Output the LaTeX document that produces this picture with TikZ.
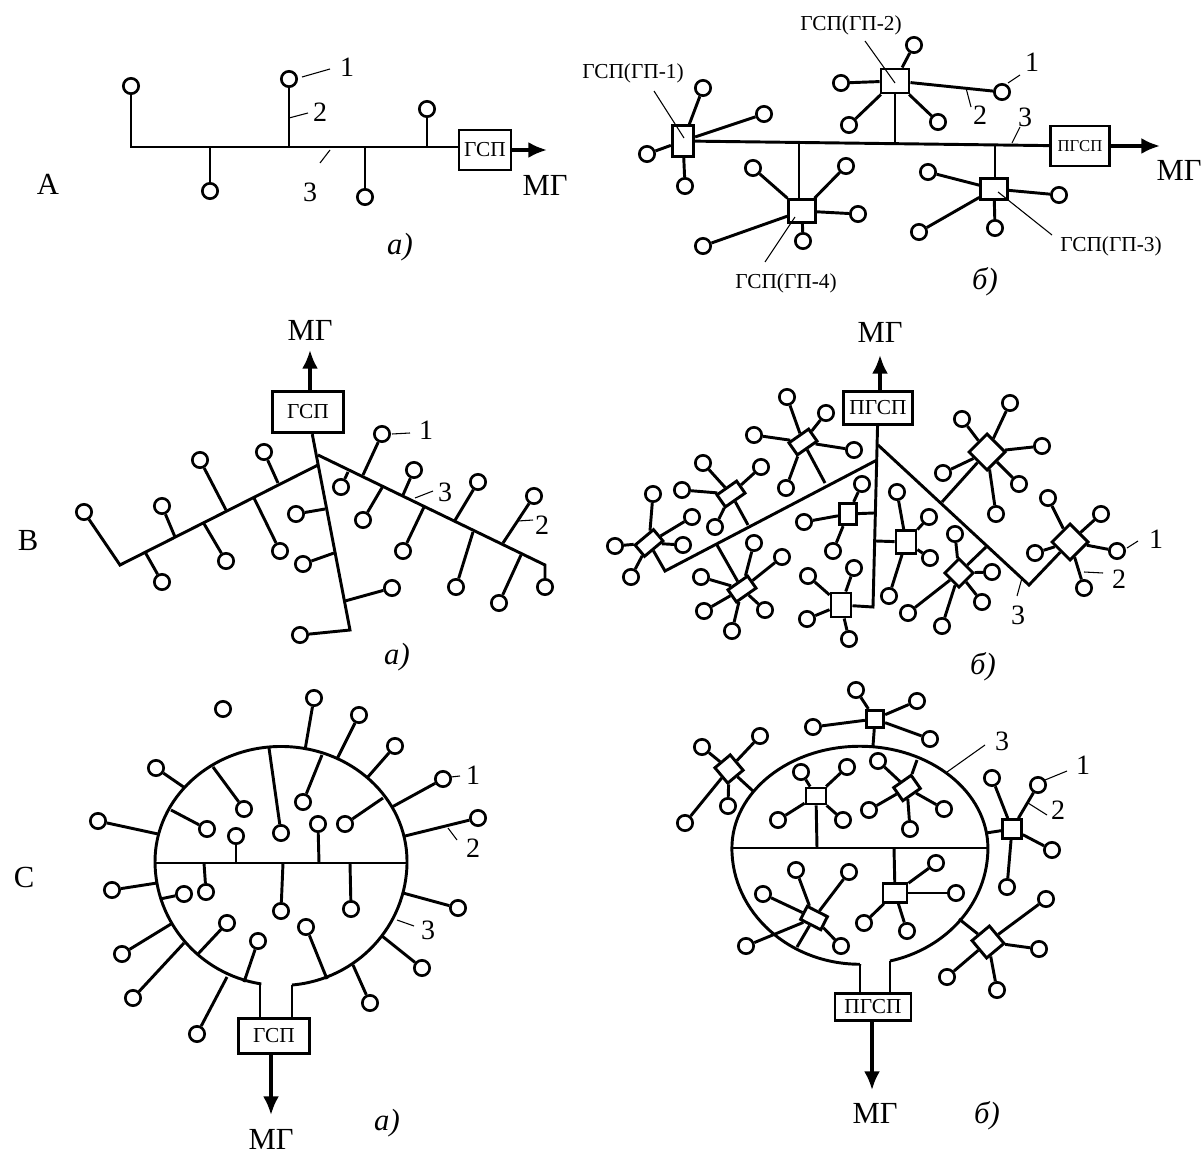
\documentclass[tikz,border=0pt]{standalone}
\usepackage{fontspec}
\setmainfont{Liberation Serif}
\usetikzlibrary{arrows.meta}
\tikzset{
  pipe/.style={line width=2.2pt,line join=miter},
  flow/.style={line width=2.4pt,-{Latex[length=14pt,width=12pt]}},
  leader/.style={line width=.8pt},
  well/.style={circle,draw,line width=2pt,fill=white,minimum size=11.5pt,inner sep=0pt},
  hub/.style={rectangle,draw,line width=2.2pt,fill=white,inner sep=0pt},
  plant/.style={rectangle,draw,line width=2.2pt,fill=white,inner sep=0pt,font=\fontsize{16}{18}\selectfont},
  num/.style={font=\fontsize{21}{23}\selectfont,inner sep=1pt},
  tag/.style={font=\fontsize{16}{18}\selectfont,inner sep=1pt},
  big/.style={font=\fontsize{23}{25}\selectfont,inner sep=0pt},
  part/.style={font=\itshape\fontsize{23}{25}\selectfont,inner sep=0pt}
}
\newcommand{\wellon}[3]{\coordinate (#1j) at (#3); \node[well] (#1) at (#2) {}; \draw[pipe] (#1j) -- (#1);}
\newcommand{\wellof}[3]{\node[well] (#1) at (#2) {}; \draw[pipe] (#3) -- (#1);}
\newcommand{\callout}[6]{\node[#1] (#2) at (#3) {#4}; \coordinate (#2a) at (#5); \coordinate (#2e) at (#6); \draw[leader] (#2a) -- (#2e);}
\begin{document}
\begin{tikzpicture}[x=.75pt,y=-.75pt]
\useasboundingbox (0,0) rectangle (1202,1155);
\node[big] (rowA) at (48,184) {A};
\node[big] (rowB) at (28,541) {B};
\node[big] (rowC) at (24,877) {C};

\node[plant,minimum width=39pt,minimum height=30pt] (AaBox) at (485,150) {ГСП};
\node[big] (AaMG) at (545,185) {МГ};
\coordinate (AaTip) at (547,150);
\draw[flow] (AaBox) -- (AaTip);
\node[well] (Aa1) at (131,86) {};
\coordinate (AaC) at (131,147);
\draw[pipe] (Aa1) -- (AaC) -- (AaBox.west |- AaC);
\wellon{Aa2}{289,79}{289,147}
\wellon{Aa3}{427,109}{427,147}
\wellon{Aa4}{210,191}{210,147}
\wellon{Aa5}{365,197}{365,147}
\callout{num}{Aan1}{347,67}{1}{302,77}{330,69}
\callout{num}{Aan2}{320,112}{2}{289,118}{308,113}
\callout{num}{Aan3}{310,192}{3}{320,163}{330,150}
\node[part] (Aap) at (400,247) {а)};

\node[hub,minimum width=16pt,minimum height=23pt] (Ab1) at (683,141) {};
\node[hub,minimum width=21pt,minimum height=18pt] (Ab2) at (895,81) {};
\node[hub,minimum width=20pt,minimum height=16pt] (Ab3) at (994,189) {};
\node[hub,minimum width=20pt,minimum height=17pt] (Ab4) at (802,211) {};
\node[plant,minimum width=44pt,minimum height=30pt,font=\fontsize{12.5}{14}\selectfont] (AbBox) at (1080,146) {ПГСП};
\node[big] (AbMG) at (1179,170) {МГ};
\coordinate (AbTip) at (1160,146);
\draw[flow] (AbBox) -- (AbTip);
\draw[pipe] (Ab1) -- (AbBox);
\coordinate (Abj2) at (895,142);
\coordinate (Abj3) at (995,144);
\coordinate (Abj4) at (799,142);
\draw[pipe] (Abj2) -- (Abj2 |- Ab2.south);
\draw[pipe] (Abj3) -- (Abj3 |- Ab3.north);
\draw[pipe] (Abj4) -- (Abj4 |- Ab4.north);
\wellof{Ab11}{703,88}{Ab1}
\wellof{Ab12}{764,114}{Ab1}
\wellof{Ab13}{647,154}{Ab1}
\wellof{Ab14}{685,186}{Ab1}
\wellof{Ab21}{914,45}{Ab2}
\wellof{Ab22}{841,83}{Ab2}
\wellof{Ab23}{849,125}{Ab2}
\wellof{Ab24}{938,122}{Ab2}
\wellof{Ab25}{1002,92}{Ab2}
\wellof{Ab31}{928,172}{Ab3}
\wellof{Ab32}{1059,195}{Ab3}
\wellof{Ab33}{995,228}{Ab3}
\wellof{Ab34}{919,232}{Ab3}
\wellof{Ab41}{753,168}{Ab4}
\wellof{Ab42}{846,166}{Ab4}
\wellof{Ab43}{858,214}{Ab4}
\wellof{Ab44}{803,241}{Ab4}
\wellof{Ab45}{703,246}{Ab4}
\callout{tag}{Abt1}{633,73}{ГСП(ГП-1)}{654,91}{684,138}
\callout{tag}{Abt2}{851,25}{ГСП(ГП-2)}{865,41}{895,83}
\callout{tag}{Abt3}{1111,246}{ГСП(ГП-3)}{1052,235}{998,192}
\callout{tag}{Abt4}{786,283}{ГСП(ГП-4)}{765,262}{795,217}
\callout{num}{Abn1}{1032,62}{1}{1008,83}{1020,75}
\callout{num}{Abn2}{980,115}{2}{966,88}{971,107}
\callout{num}{Abn3}{1025,117}{3}{1012,143}{1020,127}
\node[part] (Abp) at (985,282) {б)};

\node[plant,minimum width=53pt,minimum height=31pt] (BaBox) at (308,412) {ГСП};
\node[big] (BaMG) at (310,330) {МГ};
\coordinate (BaTip) at (310,350);
\draw[flow] (BaBox.north -| BaTip) -- (BaTip);
\node[well] (Ba0) at (300,635) {};
\coordinate (BaS) at (350,630);
\draw[pipe] (BaBox) -- (BaS) -- (Ba0);
\node[well] (Ba1) at (84,512) {};
\coordinate (BaA) at (318,465);
\coordinate (BaB) at (120,565);
\draw[pipe] (BaA) -- (BaB) -- (Ba1);
\node[well] (Ba2) at (545,587) {};
\coordinate (BaD) at (318,455);
\coordinate (BaE) at (545,565);
\draw[pipe] (BaD) -- (BaE) -- (Ba2);
\wellon{Ba3}{264,452}{278,483}
\wellon{Ba4}{200,460}{226,510}
\wellon{Ba5}{162,506}{175,537}
\wellon{Ba6}{280,551}{254,498}
\wellon{Ba7}{226,561}{203,522}
\wellon{Ba8}{162,582}{145,552}
\wellon{Ba9}{296,514}{325,509}
\wellon{Ba10}{303,564}{334,553}
\wellon{Ba11}{392,588}{345,601}
\wellon{Ba12}{382,434}{363,475}
\wellon{Ba13}{341,487}{348,472}
\wellon{Ba14}{414,470}{403,495}
\wellon{Ba15}{363,520}{383,486}
\wellon{Ba16}{403,551}{424,507}
\wellon{Ba17}{478,482}{454,522}
\wellon{Ba18}{456,587}{473,532}
\wellon{Ba19}{534,496}{503,543}
\wellon{Ba20}{499,603}{521,555}
\callout{num}{Ban1}{426,430}{1}{392,434}{410,433}
\callout{num}{Ban2}{542,525}{2}{518,521}{533,520}
\callout{num}{Ban3}{445,492}{3}{415,498}{433,491}
\node[part] (Bap) at (397,657) {а)};

\node[plant,minimum width=52pt,minimum height=25pt] (BbBox) at (878,408) {ПГСП};
\node[big] (BbMG) at (880,332) {МГ};
\coordinate (BbTip) at (880,355);
\draw[flow] (BbBox.north -| BbTip) -- (BbTip);
\node[hub,minimum width=18pt,minimum height=11pt,rotate=35] (Bb1) at (803,442) {};
\node[hub,minimum width=18pt,minimum height=11pt,rotate=35] (Bb2) at (731,494) {};
\node[hub,minimum width=18pt,minimum height=11pt,rotate=40] (Bb3) at (649,543) {};
\node[hub,minimum width=18pt,minimum height=11pt,rotate=35] (Bb4) at (742,589) {};
\node[hub,minimum width=13pt,minimum height=16pt] (Bb5) at (848,514) {};
\node[hub,minimum width=15pt,minimum height=17pt] (Bb6) at (906,542) {};
\node[hub,minimum width=15pt,minimum height=18pt] (Bb7) at (841,605) {};
\node[hub,minimum size=15pt,rotate=45] (Bb8) at (959,573) {};
\node[hub,minimum size=19pt,rotate=45] (Bb9) at (987,452) {};
\node[hub,minimum size=19pt,rotate=45] (Bb10) at (1070,542) {};
\coordinate (BbS) at (873,607);
\draw[pipe] (BbBox) -- (BbS) -- (Bb7);
\coordinate (BbA) at (877,460);
\coordinate (BbB) at (665,571);
\draw[pipe] (BbA) -- (BbB) -- (Bb3);
\coordinate (BbD) at (878,445);
\coordinate (BbE) at (1029,585);
\draw[pipe] (BbD) -- (BbE) -- (Bb10);
\coordinate (Bbj1) at (825,483);
\coordinate (Bbj2) at (748,525);
\coordinate (Bbj4) at (717,545);
\coordinate (Bbj5) at (874,513);
\coordinate (Bbj6) at (876,541);
\coordinate (Bbj8) at (986,547);
\coordinate (Bbj9) at (942,502);
\draw[pipe] (Bbj1) -- (Bb1);
\draw[pipe] (Bbj2) -- (Bb2);
\draw[pipe] (Bbj4) -- (Bb4);
\draw[pipe] (Bbj5) -- (Bb5);
\draw[pipe] (Bbj6) -- (Bb6);
\draw[pipe] (Bbj8) -- (Bb8);
\draw[pipe] (Bbj9) -- (Bb9);
\wellof{Bb11}{787,397}{Bb1}
\wellof{Bb12}{826,413}{Bb1}
\wellof{Bb13}{754,435}{Bb1}
\wellof{Bb14}{854,450}{Bb1}
\wellof{Bb15}{786,488}{Bb1}
\wellof{Bb21}{703,463}{Bb2}
\wellof{Bb22}{761,467}{Bb2}
\wellof{Bb23}{682,490}{Bb2}
\wellof{Bb24}{715,527}{Bb2}
\wellof{Bb31}{653,494}{Bb3}
\wellof{Bb32}{692,517}{Bb3}
\wellof{Bb33}{615,546}{Bb3}
\wellof{Bb34}{683,545}{Bb3}
\wellof{Bb35}{631,577}{Bb3}
\wellof{Bb41}{754,543}{Bb4}
\wellof{Bb42}{782,557}{Bb4}
\wellof{Bb43}{701,577}{Bb4}
\wellof{Bb44}{765,610}{Bb4}
\wellof{Bb45}{704,611}{Bb4}
\wellof{Bb46}{732,631}{Bb4}
\wellof{Bb51}{862,484}{Bb5}
\wellof{Bb52}{804,522}{Bb5}
\wellof{Bb53}{833,551}{Bb5}
\wellof{Bb61}{897,492}{Bb6}
\wellof{Bb62}{929,517}{Bb6}
\wellof{Bb63}{930,558}{Bb6}
\wellof{Bb64}{889,596}{Bb6}
\wellof{Bb71}{854,568}{Bb7}
\wellof{Bb72}{808,576}{Bb7}
\wellof{Bb73}{807,619}{Bb7}
\wellof{Bb74}{849,639}{Bb7}
\wellof{Bb81}{955,534}{Bb8}
\wellof{Bb82}{992,572}{Bb8}
\wellof{Bb83}{982,602}{Bb8}
\wellof{Bb84}{908,613}{Bb8}
\wellof{Bb85}{942,626}{Bb8}
\wellof{Bb91}{962,419}{Bb9}
\wellof{Bb92}{1010,403}{Bb9}
\wellof{Bb93}{1042,446}{Bb9}
\wellof{Bb94}{943,473}{Bb9}
\wellof{Bb95}{1019,484}{Bb9}
\wellof{Bb96}{996,514}{Bb9}
\wellof{Bb101}{1048,498}{Bb10}
\wellof{Bb102}{1101,514}{Bb10}
\wellof{Bb103}{1117,551}{Bb10}
\wellof{Bb104}{1035,553}{Bb10}
\wellof{Bb105}{1084,588}{Bb10}
\callout{num}{Bbn1}{1156,539}{1}{1127,548}{1138,541}
\callout{num}{Bbn2}{1119,579}{2}{1084,572}{1103,573}
\callout{num}{Bbn3}{1018,615}{3}{1017,596}{1022,578}
\node[part] (Bbp) at (983,667) {б)};

\coordinate (CaL) at (260,985);
\coordinate (CaR) at (292,985);
\coordinate (CaW) at (155,863);
\coordinate (CaE) at (407,863);
\node[plant,minimum width=53pt,minimum height=26pt] (CaBox) at (274,1036) {ГСП};
\node[big] (CaMG) at (271,1139) {МГ};
\coordinate (CaTip) at (271,1115);
\draw[pipe] (CaR) arc[start angle=85,end angle=0,x radius=126,y radius=124] arc[start angle=0,end angle=-180,x radius=126,y radius=115] arc[start angle=180,end angle=99.6,x radius=126,y radius=124] -- (CaL);
\draw[pipe] (CaW) -- (CaE);
\draw[pipe] (CaL) -- (CaL |- CaBox.north);
\draw[pipe] (CaR) -- (CaR |- CaBox.north);
\draw[flow] (CaBox.south -| CaTip) -- (CaTip);
\node[well] (Ca0) at (223,709) {};
\wellon{Ca1}{314,698}{305,750}
\wellon{Ca2}{359,715}{337,759}
\wellon{Ca3}{395,746}{367,778}
\wellon{Ca4}{443,779}{392,807}
\wellon{Ca5}{478,818}{405,836}
\wellon{Ca6}{156,768}{185,788}
\wellon{Ca7}{98,821}{158,834}
\wellon{Ca8}{244,809}{213,767}
\wellon{Ca9}{207,829}{171,810}
\wellon{Ca10}{281,833}{269,748}
\wellon{Ca11}{303,802}{322,755}
\wellon{Ca12}{345,824}{383,798}
\wellon{Ca13}{236,836}{236,863}
\wellon{Ca14}{318,824}{319,863}
\wellon{Ca15}{206,892}{204,863}
\wellon{Ca16}{281,911}{283,863}
\wellon{Ca17}{351,909}{350,863}
\wellon{Ca18}{184,894}{160,899}
\wellon{Ca19}{227,923}{197,955}
\wellon{Ca20}{258,941}{244,982}
\wellon{Ca21}{306,927}{327,979}
\wellon{Ca22}{112,890}{157,883}
\wellon{Ca23}{458,908}{403,893}
\wellon{Ca24}{122,954}{171,924}
\wellon{Ca25}{133,998}{184,943}
\wellon{Ca26}{197,1034}{227,977}
\wellon{Ca27}{370,1003}{353,965}
\wellon{Ca28}{422,968}{382,936}
\callout{num}{Can1}{473,775}{1}{451,777}{460,776}
\callout{num}{Can2}{473,848}{2}{448,828}{457,840}
\callout{num}{Can3}{428,930}{3}{397,920}{414,926}
\node[part] (Cap) at (387,1123) {а)};

\coordinate (CbL) at (860,964);
\coordinate (CbR) at (890,961);
\coordinate (CbW) at (732,848);
\coordinate (CbE) at (988,848);
\node[plant,minimum width=57pt,minimum height=20pt] (CbBox) at (873,1007) {ПГСП};
\node[big] (CbMG) at (875,1113) {МГ};
\coordinate (CbTip) at (872,1090);
\draw[pipe] (CbR) arc[start angle=76.4,end angle=0,x radius=128,y radius=116] arc[start angle=0,end angle=-180,x radius=128,y radius=102] arc[start angle=180,end angle=90,x radius=128,y radius=116] -- (CbL);
\draw[pipe] (CbW) -- (CbE);
\draw[pipe] (CbL) -- (CbL |- CbBox.north);
\draw[pipe] (CbR) -- (CbR |- CbBox.north);
\draw[flow] (CbBox.south -| CbTip) -- (CbTip);
\node[hub,minimum size=13pt] (Cb1) at (875,719) {};
\node[hub,minimum size=15pt,rotate=40] (Cb2) at (729,769) {};
\node[hub,minimum width=15pt,minimum height=12pt] (Cb3) at (816,796) {};
\node[hub,minimum width=16pt,minimum height=12pt,rotate=35] (Cb4) at (907,788) {};
\node[hub,minimum size=14pt] (Cb5) at (1012,829) {};
\node[hub,minimum width=17pt,minimum height=11pt,rotate=-27] (Cb6) at (814,918) {};
\node[hub,minimum width=18pt,minimum height=14pt] (Cb7) at (895,893) {};
\node[hub,minimum size=17pt,rotate=40] (Cb8) at (988,942) {};
\coordinate (Cbj1) at (873,746);
\coordinate (Cbj2) at (753,791);
\coordinate (Cbj3) at (817,848);
\coordinate (Cbj4) at (917,760);
\coordinate (Cbj5) at (986,833);
\coordinate (Cbj6) at (797,947);
\coordinate (Cbj7) at (894,848);
\coordinate (Cbj8) at (959,919);
\draw[pipe] (Cbj1) -- (Cb1);
\draw[pipe] (Cbj2) -- (Cb2);
\draw[pipe] (Cbj3) -- (Cb3);
\draw[pipe] (Cbj4) -- (Cb4);
\draw[pipe] (Cbj5) -- (Cb5);
\draw[pipe] (Cbj6) -- (Cb6);
\draw[pipe] (Cbj7) -- (Cb7);
\draw[pipe] (Cbj8) -- (Cb8);
\wellof{Cb11}{856,690}{Cb1}
\wellof{Cb12}{917,701}{Cb1}
\wellof{Cb13}{813,727}{Cb1}
\wellof{Cb14}{930,739}{Cb1}
\wellof{Cb21}{702,747}{Cb2}
\wellof{Cb22}{760,736}{Cb2}
\wellof{Cb23}{728,806}{Cb2}
\wellof{Cb24}{685,823}{Cb2}
\wellof{Cb31}{801,772}{Cb3}
\wellof{Cb32}{847,767}{Cb3}
\wellof{Cb33}{778,820}{Cb3}
\wellof{Cb34}{843,820}{Cb3}
\wellof{Cb41}{878,761}{Cb4}
\wellof{Cb42}{869,810}{Cb4}
\wellof{Cb43}{944,809}{Cb4}
\wellof{Cb44}{910,829}{Cb4}
\wellof{Cb51}{992,778}{Cb5}
\wellof{Cb52}{1038,785}{Cb5}
\wellof{Cb53}{1052,850}{Cb5}
\wellof{Cb54}{1007,887}{Cb5}
\wellof{Cb61}{796,870}{Cb6}
\wellof{Cb62}{849,872}{Cb6}
\wellof{Cb63}{763,894}{Cb6}
\wellof{Cb64}{841,946}{Cb6}
\wellof{Cb65}{746,946}{Cb6}
\wellof{Cb71}{936,863}{Cb7}
\wellof{Cb72}{956,893}{Cb7}
\wellof{Cb73}{864,923}{Cb7}
\wellof{Cb74}{907,931}{Cb7}
\wellof{Cb81}{1046,899}{Cb8}
\wellof{Cb82}{1039,949}{Cb8}
\wellof{Cb83}{947,977}{Cb8}
\wellof{Cb84}{997,990}{Cb8}
\callout{num}{Cbn1}{1083,765}{1}{1045,780}{1067,771}
\callout{num}{Cbn2}{1058,810}{2}{1028,803}{1047,815}
\callout{num}{Cbn3}{1002,741}{3}{947,772}{985,745}
\node[part] (Cbp) at (987,1116) {б)};
\end{tikzpicture}
\end{document}
